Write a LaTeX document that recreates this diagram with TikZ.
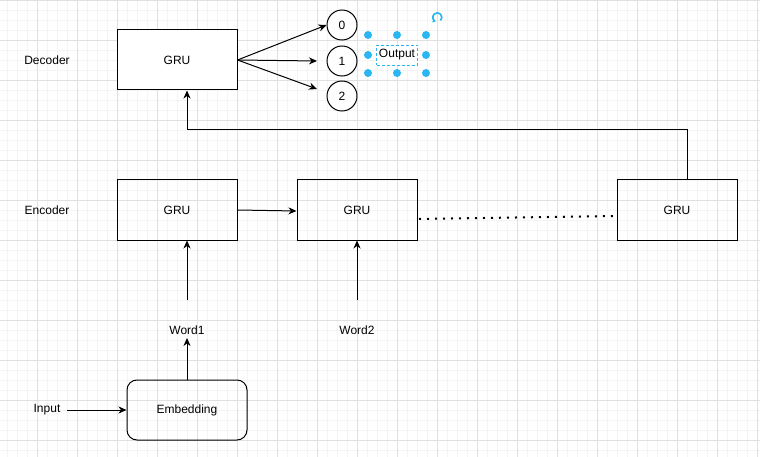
\documentclass[tikz,border=0pt]{standalone}
\usepackage{fontspec}
\setmainfont{Liberation Sans}
\usetikzlibrary{arrows.meta}

\definecolor{gridminor}{RGB}{244,244,244}
\definecolor{gridmajor}{RGB}{224,224,224}
\definecolor{handle}{RGB}{41,182,242}

\tikzset{
    gru/.style={draw, line width=1pt, minimum width=120pt, minimum height=60pt, font=\fontsize{12}{14}\selectfont},
    lbl/.style={font=\fontsize{12}{14}\selectfont},
    neuron/.style={draw, circle, line width=1pt, minimum size=30pt, inner sep=0pt, font=\fontsize{12}{14}\selectfont},
    arr/.style={line width=1pt, -{Stealth[length=8pt, width=7pt, inset=2.5pt]}},
    dot/.style={fill=handle, draw=none}
}

\begin{document}
\begin{tikzpicture}[x=1pt, y=-1pt]
    \useasboundingbox (0,0) rectangle (760,457);
    \fill[white] (0,0) rectangle (760,457);
    % Canvas grid
    \foreach \x in {7,17,...,757} \draw[gridminor, line width=0.8pt] (\x,0) -- (\x,457);
    \foreach \y in {10,20,...,450} \draw[gridminor, line width=0.8pt] (0,\y) -- (760,\y);
    \foreach \x in {37,77,...,757} \draw[gridmajor, line width=0.8pt] (\x,0) -- (\x,457);
    \foreach \y in {0,40,...,440} \draw[gridmajor, line width=0.8pt] (0,\y) -- (760,\y);

    % Decoder
    \node[lbl] (declbl) at (47,60) {Decoder};
    \node[gru, fill=white] (dec) at (177,60) {GRU};
    \node[neuron, fill=white] (c0) at (342,25) {0};
    \node[neuron, fill=white] (c1) at (342,61) {1};
    \node[neuron, fill=white] (c2) at (342,96) {2};
    \coordinate (t1) at (317,61);
    \coordinate (t2) at (317,89);
    \draw[arr] (dec.east) -- (c0.west);
    \draw[arr] (dec.east) -- (t1);
    \draw[arr] (dec.east) -- (t2);

    % Output label (selected)
    \foreach \x in {368,397,426} \foreach \y in {35,55,73} \fill[dot] (\x,\y) circle (4);
    \node[lbl, draw=handle, line width=0.8pt, dash pattern=on 3pt off 2pt, fill=white, minimum width=41pt, minimum height=20pt, inner sep=0pt] (out) at (397,55) {Output};
    \draw[handle, line width=1.6pt, -{Stealth[length=3.5pt, width=4.5pt]}] (440.5,20.5) arc (45:-250:4.5);

    % Encoder
    \node[lbl] (enclbl) at (47,210) {Encoder};
    \node[gru] (enc1) at (177,210) {GRU};
    \node[gru] (enc2) at (357,210) {GRU};
    \node[gru] (enc3) at (677,210) {GRU};
    \coordinate (d1) at (419,219);
    \coordinate (d2) at (613,216);
    \draw[arr] (enc1.east) -- ([yshift=-1pt]enc2.west);
    \draw[line width=2pt, dash pattern=on 2pt off 6pt] (d1) -- (d2);
    % Feedback to decoder
    \draw[arr] ([xshift=10pt]enc3.north) -- ++(0,-50) -| ([xshift=10pt]dec.south);

    % Inputs
    \node[lbl] (word1) at (187,330) {Word1};
    \node[lbl] (word2) at (357,330) {Word2};
    \coordinate (w1) at (187,300);
    \coordinate (w2) at (357,300);
    \draw[arr] (w1) -- ([xshift=10pt]enc1.south);
    \draw[arr] (w2) -- (enc2.south);

    % Embedding
    \node[gru, rounded corners=10pt] (emb) at (187,410) {Embedding};
    \node[lbl] (input) at (47,410) {Input};
    \draw[arr] (emb.north) -- (word1.south);
    \draw[arr] ([xshift=3pt]input.east) -- (emb.west);
\end{tikzpicture}
\end{document}
